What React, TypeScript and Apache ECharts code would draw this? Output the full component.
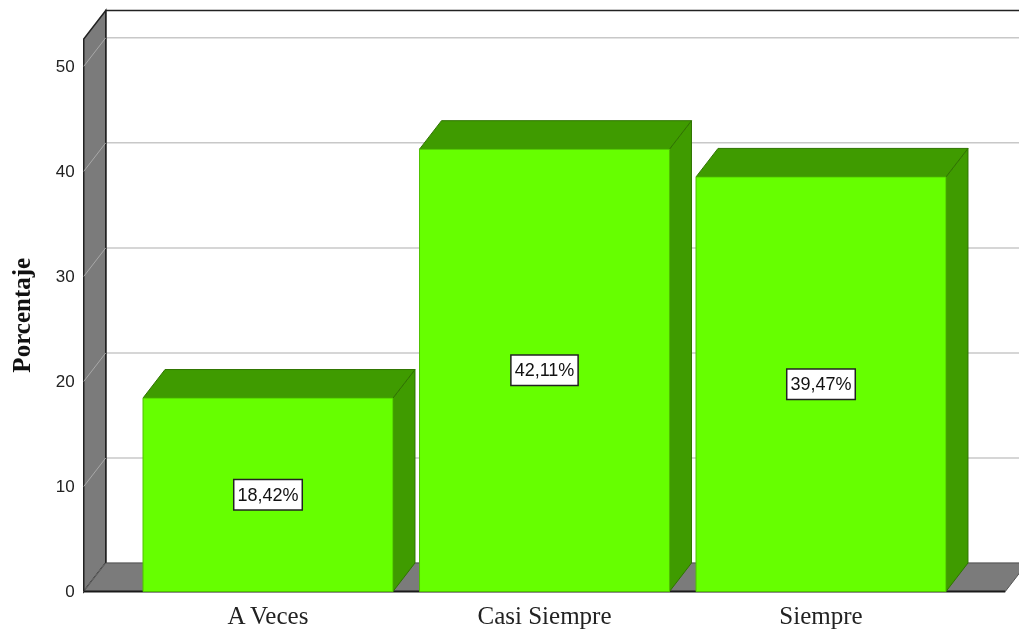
import React, { useEffect, useRef } from 'react';
import * as echarts from 'echarts';

const categories = ['A Veces', 'Casi Siempre', 'Siempre'];
const percentages = [18.42, 42.11, 39.47];
const percentLabels = ['18,42%', '42,11%', '39,47%'];
const yTicks = [0, 10, 20, 30, 40, 50];
const yMax = 52.6;

const DX = 22;
const DY = -28.5;
const SIDE = 46;
const BAR_RATIO = 0.904;

const FRONT = '#66ff00';
const SHADE = '#3f9b00';
const EDGE = '#2f7400';
const WALL = '#7b7b7b';

export default function App() {
  const ref = useRef<HTMLDivElement>(null);
  useEffect(() => {
    const chart = echarts.init(ref.current!, null, { renderer: 'svg' });
    chart.setOption({
      animation: false,
      grid: { left: 129.75, right: 59.75, top: 39, bottom: 40.5, containLabel: false, outerBoundsMode: 'none' },
      xAxis: {
        type: 'category',
        data: categories,
        axisLine: { show: false },
        axisTick: { show: false },
        axisLabel: {
          margin: 11,
          fontFamily: '"Liberation Serif", "Times New Roman", serif',
          fontSize: 25,
          color: '#222',
        },
      },
      yAxis: {
        type: 'value',
        min: 0,
        max: yMax,
        interval: 10,
        name: 'Porcentaje',
        nameLocation: 'middle',
        nameGap: 96,
        nameTextStyle: {
          fontFamily: '"Liberation Serif", "Times New Roman", serif',
          fontWeight: 'bold',
          fontSize: 25,
          color: '#111',
        },
        axisLine: { show: false },
        axisTick: { show: false },
        splitLine: { show: false },
        axisLabel: {
          margin: 55,
          fontFamily: '"Liberation Sans", Arial, sans-serif',
          fontSize: 17,
          color: '#222',
          formatter: (v: number) => (yTicks.indexOf(v) >= 0 ? String(v) : ''),
        },
      },
      series: [
        {
          type: 'custom',
          silent: true,
          data: [[0, 0]],
          z: 1,
          renderItem: (params: any, api: any) => {
            const cs = params.coordSys;
            const fl = cs.x - SIDE;
            const fr = cs.x + cs.width + SIDE;
            const yb = api.coord([0, 0])[1];
            const yt = api.coord([0, yMax])[1];
            const children: any[] = [];
            children.push({
              type: 'polygon',
              shape: { points: [[fl + DX, yt + DY], [fr + DX, yt + DY], [fr + DX, yb + DY], [fl + DX, yb + DY]] },
              style: { fill: '#ffffff' },
            });
            yTicks.forEach((v) => {
              const y = api.coord([0, v])[1];
              children.push({
                type: 'line',
                shape: { x1: fl + DX, y1: y + DY, x2: fr + DX, y2: y + DY },
                style: { stroke: '#c8c8c8', lineWidth: 1.5 },
              });
            });
            children.push({
              type: 'polyline',
              shape: { points: [[fl + DX, yb + DY], [fl + DX, yt + DY], [fr + DX, yt + DY]] },
              style: { stroke: '#222', lineWidth: 1.5, fill: 'none' },
            });
            children.push({
              type: 'polygon',
              shape: { points: [[fl, yt], [fl + DX, yt + DY], [fl + DX, yb + DY], [fl, yb]] },
              style: { fill: WALL, stroke: '#222', lineWidth: 1.5 },
            });
            yTicks.forEach((v) => {
              const y = api.coord([0, v])[1];
              children.push({
                type: 'line',
                shape: { x1: fl, y1: y, x2: fl + DX, y2: y + DY },
                style: { stroke: '#a8a8a8', lineWidth: 1 },
              });
            });
            children.push({
              type: 'polygon',
              shape: { points: [[fl, yb], [fl + DX, yb + DY], [fr + DX, yb + DY], [fr, yb]] },
              style: { fill: WALL, stroke: '#555', lineWidth: 1 },
            });
            children.push({
              type: 'line',
              shape: { x1: fl, y1: yb, x2: fr, y2: yb },
              style: { stroke: '#1a1a1a', lineWidth: 2 },
            });
            return { type: 'group', children };
          },
        },
        {
          type: 'custom',
          z: 2,
          data: percentages.map((v, i) => [i, v]),
          renderItem: (params: any, api: any) => {
            const idx = api.value(0);
            const v = api.value(1);
            const top = api.coord([idx, v]);
            const base = api.coord([idx, 0]);
            const w = api.size([1, 0])[0] * BAR_RATIO;
            const x0 = top[0] - w / 2;
            const x1 = top[0] + w / 2;
            const yT = top[1];
            const y0 = base[1];
            return {
              type: 'group',
              children: [
                {
                  type: 'polygon',
                  shape: { points: [[x1, yT], [x1 + DX, yT + DY], [x1 + DX, y0 + DY], [x1, y0]] },
                  style: { fill: SHADE, stroke: EDGE, lineWidth: 1 },
                },
                {
                  type: 'polygon',
                  shape: { points: [[x0, yT], [x0 + DX, yT + DY], [x1 + DX, yT + DY], [x1, yT]] },
                  style: { fill: SHADE, stroke: EDGE, lineWidth: 1 },
                },
                {
                  type: 'rect',
                  shape: { x: x0, y: yT, width: w, height: y0 - yT },
                  style: { fill: FRONT, stroke: '#4fc000', lineWidth: 1 },
                },
                {
                  type: 'text',
                  x: top[0],
                  y: (yT + y0) / 2,
                  style: {
                    text: percentLabels[params.dataIndex],
                    fontFamily: '"Liberation Sans", Arial, sans-serif',
                    fontSize: 18,
                    fill: '#111',
                    align: 'center',
                    verticalAlign: 'middle',
                    backgroundColor: '#ffffff',
                    borderColor: '#222',
                    borderWidth: 1.5,
                    padding: [6, 3, 5, 3],
                  },
                },
              ],
            };
          },
        },
      ],
    });
    return () => chart.dispose();
  }, []);
  return <div ref={ref} style={{ position: 'fixed', left: 0, top: 0, width: 1019, height: 632 }} />;
}
